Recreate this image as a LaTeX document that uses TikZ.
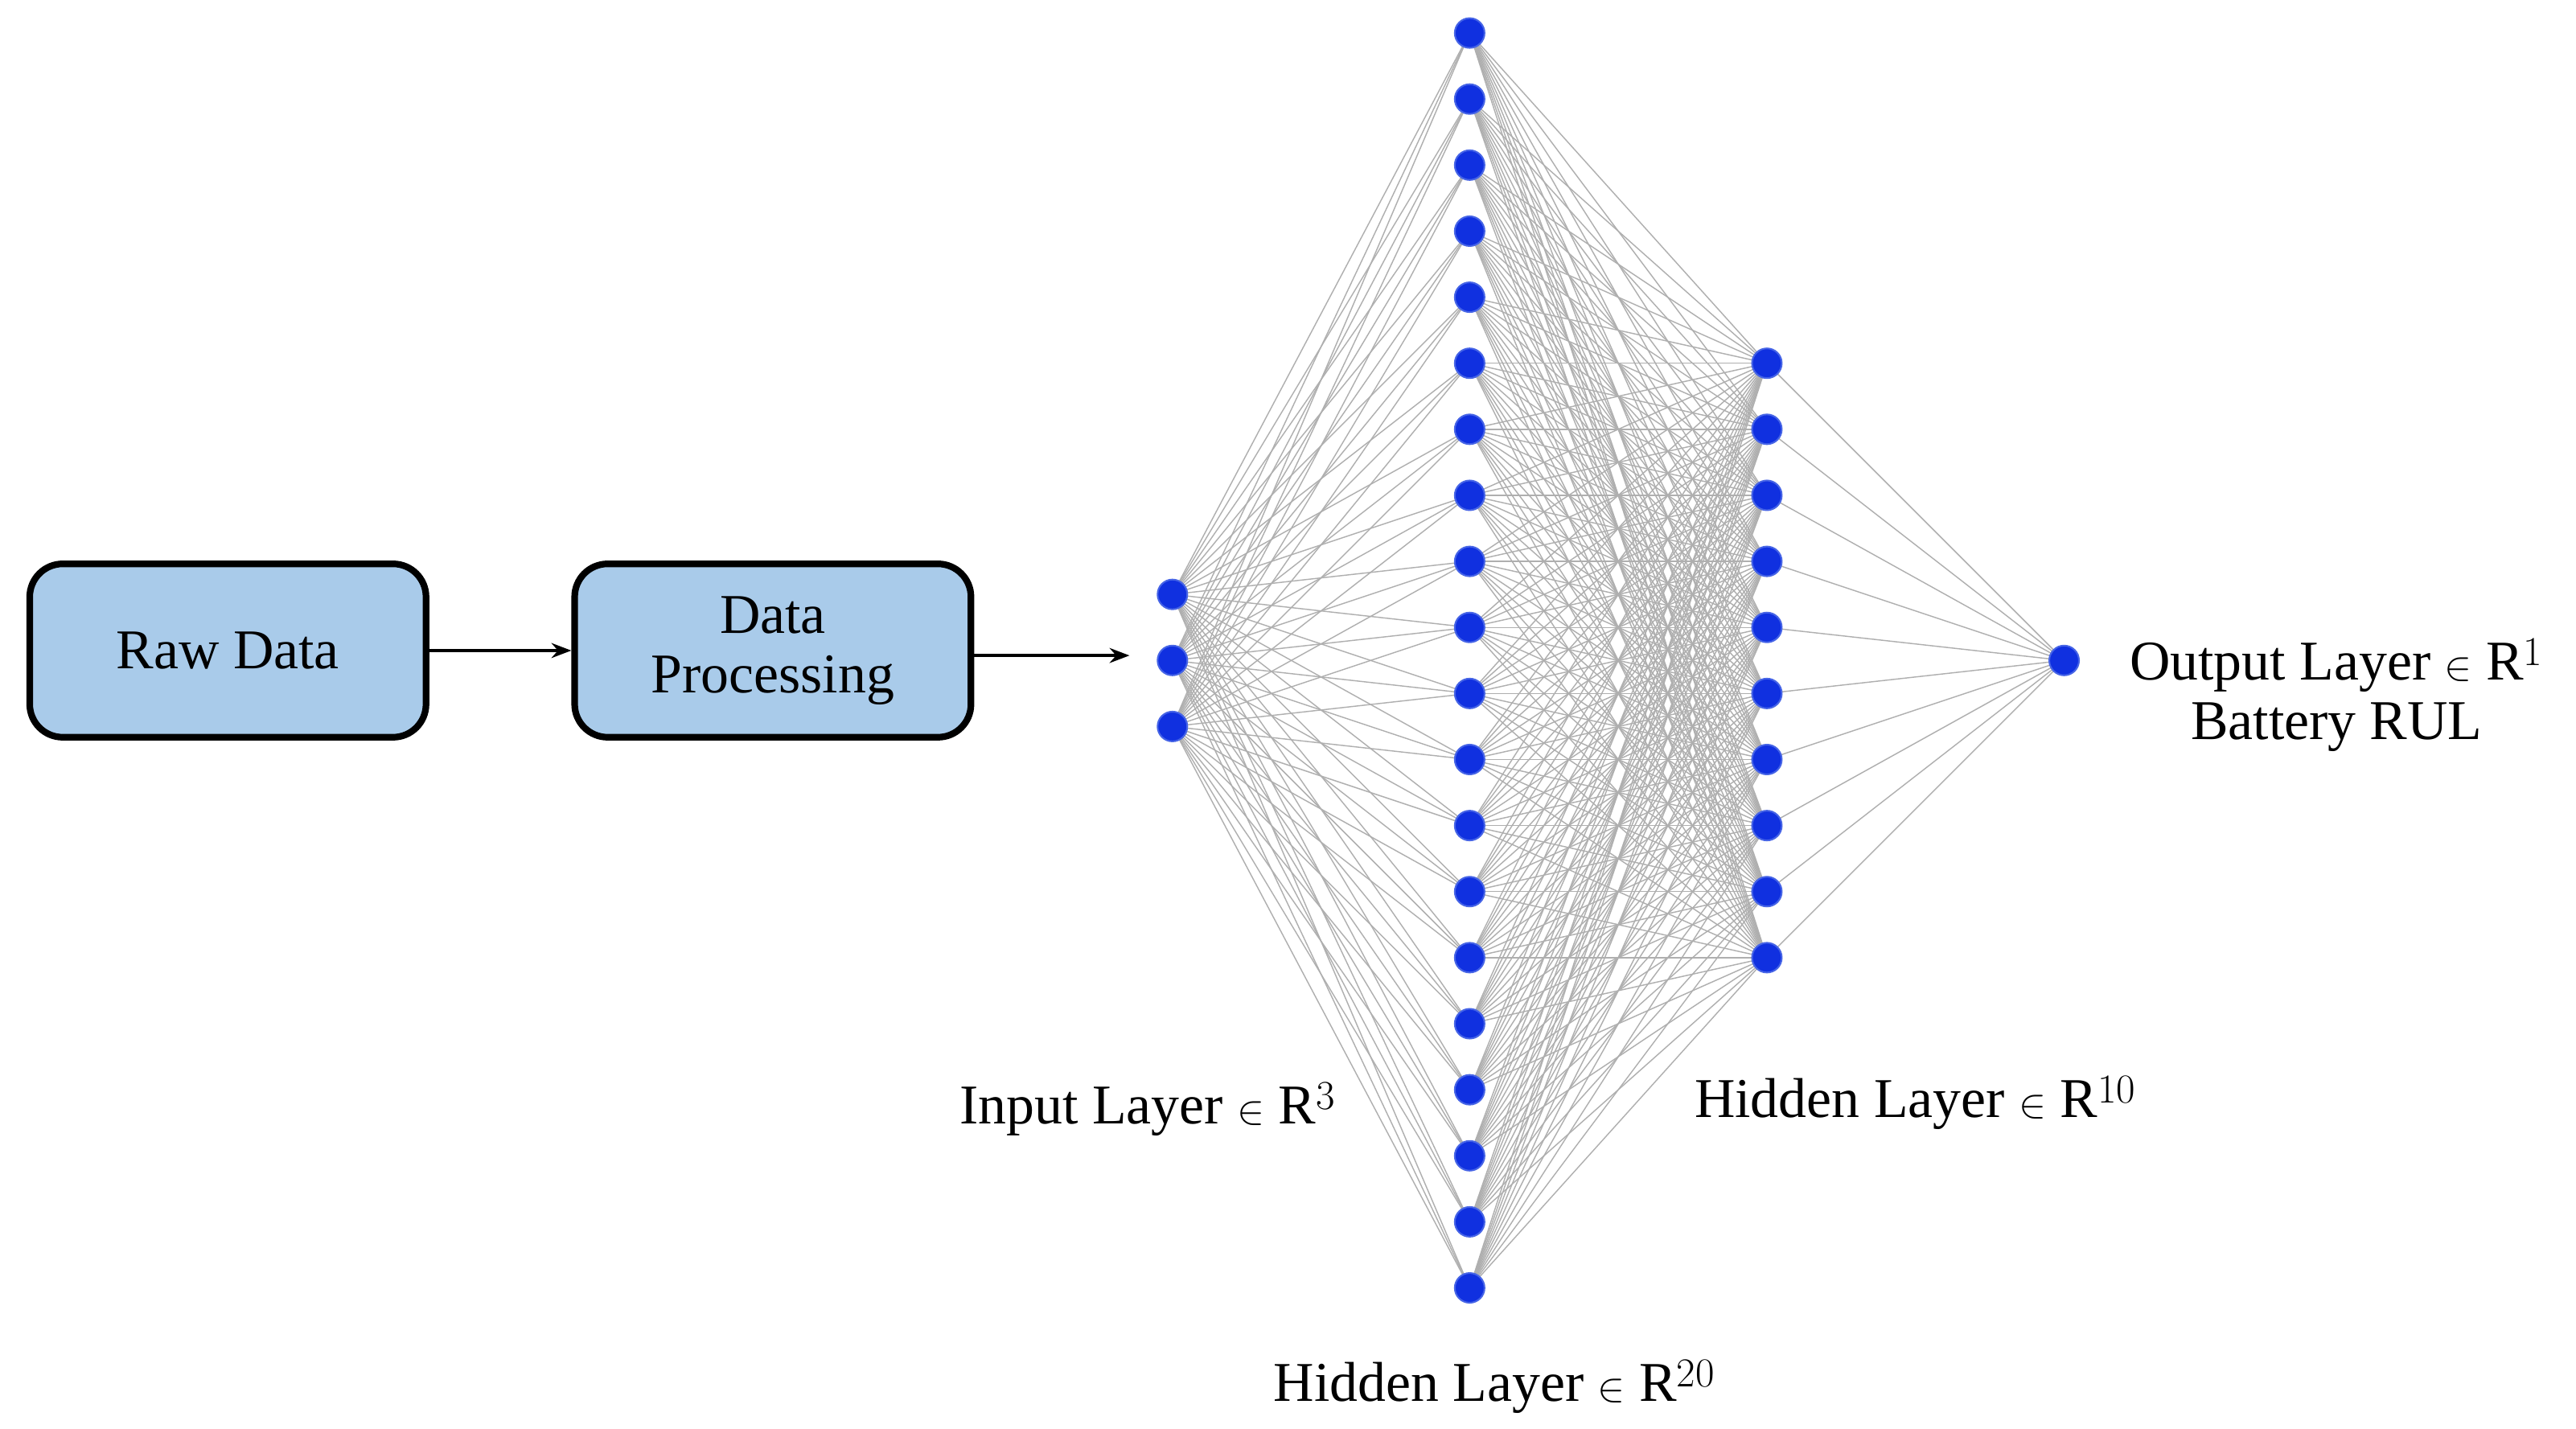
\documentclass[tikz,border=0pt]{standalone}
\usepackage{fontspec}
\setmainfont{Liberation Serif}
\usetikzlibrary{arrows.meta}
\begin{document}
\begin{tikzpicture}[x=1pt,y=-1pt,
  neuron/.style={circle,fill={rgb,255:red,16;green,48;blue,224},draw={rgb,255:red,70;green,100;blue,230},line width=1pt,minimum size=18pt,inner sep=0pt},
  box/.style={draw=black,line width=4pt,rounded corners=20pt,fill={rgb,255:red,169;green,203;blue,234},minimum width=240pt,minimum height=105pt,align=center,font=\fontsize{34}{36}\selectfont},
  conn/.style={draw={rgb,255:red,175;green,175;blue,175},line width=0.7pt},
  arr/.style={line width=2pt,-{Stealth[length=12pt,width=9pt]}},
  lab/.style={font=\fontsize{34}{36}\selectfont,align=center}]
\useasboundingbox (0,0) rectangle (1560,865);
\foreach \i in {1,...,3} \coordinate (a\i) at (710,{320+40*\i});
\foreach \i in {1,...,20} \coordinate (b\i) at (890,{-20+40*\i});
\foreach \i in {1,...,10} \coordinate (c\i) at (1070,{180+40*\i});
\coordinate (d1) at (1250,400);
\foreach \i in {1,...,3} \foreach \j in {1,...,20} \draw[conn] (a\i) -- (b\j);
\foreach \i in {1,...,20} \foreach \j in {1,...,10} \draw[conn] (b\i) -- (c\j);
\foreach \j in {1,...,10} \draw[conn] (c\j) -- (d1);
\foreach \i in {1,...,3} \node[neuron] (na\i) at (a\i) {};
\foreach \i in {1,...,20} \node[neuron] (nb\i) at (b\i) {};
\foreach \i in {1,...,10} \node[neuron] (nc\i) at (c\i) {};
\node[neuron] (nd1) at (d1) {};
\node[box] (raw) at (138,394) {Raw Data};
\node[box] (proc) at (468,394) {Data\\Processing};
\coordinate (inp) at (684,397);
\draw[arr] (raw.east) -- (proc.west);
\draw[arr] (proc.east |- inp) -- (inp);
\node[lab] (lo) at (1415,421) {Output Layer $\in$ R$^1$\\Battery RUL};
\node[lab] (li) at (695,672) {Input Layer $\in$ R$^3$};
\node[lab] (lh2) at (1160,668) {Hidden Layer $\in$ R$^{10}$};
\node[lab] (lh1) at (905,840) {Hidden Layer $\in$ R$^{20}$};
\end{tikzpicture}
\end{document}
